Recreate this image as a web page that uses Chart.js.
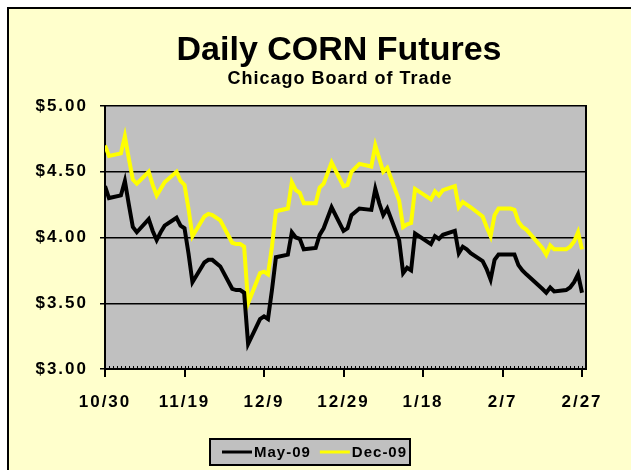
<!DOCTYPE html>
<html>
<head>
<meta charset="utf-8">
<script src="https://cdn.jsdelivr.net/npm/chart.js@4.4.0/dist/chart.umd.min.js"></script>
<style>
  html, body { margin: 0; padding: 0; background: #fff; }
</style>
</head>
<body>
<canvas id="corn" width="631" height="470"></canvas>
<script>
// trading days
const tradeDates = [
  '10/30/2008','10/31/2008','11/3/2008','11/4/2008','11/5/2008','11/6/2008','11/7/2008',
  '11/10/2008','11/11/2008','11/12/2008','11/13/2008','11/14/2008','11/17/2008','11/18/2008',
  '11/19/2008','11/20/2008','11/21/2008','11/24/2008','11/25/2008','11/26/2008','11/28/2008',
  '12/1/2008','12/2/2008','12/3/2008','12/4/2008','12/5/2008','12/8/2008','12/9/2008',
  '12/10/2008','12/11/2008','12/12/2008','12/15/2008','12/16/2008','12/17/2008','12/18/2008',
  '12/19/2008','12/22/2008','12/23/2008','12/24/2008','12/26/2008','12/29/2008','12/30/2008',
  '12/31/2008','1/2/2009','1/5/2009','1/6/2009','1/7/2009','1/8/2009','1/9/2009',
  '1/12/2009','1/13/2009','1/14/2009','1/15/2009','1/16/2009','1/20/2009','1/21/2009',
  '1/22/2009','1/23/2009','1/26/2009','1/27/2009','1/28/2009','1/29/2009','1/30/2009',
  '2/2/2009','2/3/2009','2/4/2009','2/5/2009','2/6/2009','2/9/2009','2/10/2009',
  '2/11/2009','2/12/2009','2/13/2009','2/17/2009','2/18/2009','2/19/2009','2/20/2009',
  '2/23/2009','2/24/2009','2/25/2009','2/26/2009','2/27/2009'
];

const may09 = [
  4.39, 4.30, 4.32, 4.43, 4.25, 4.08, 4.04,
  4.14, 4.05, 3.98, 4.04, 4.09, 4.15, 4.09,
  4.07, 3.88, 3.66, 3.81, 3.83, 3.83, 3.78,
  3.61, 3.60, 3.60, 3.58, 3.19, 3.38, 3.40,
  3.38, 3.60, 3.85, 3.87, 4.04, 4.00, 3.99,
  3.91, 3.92, 4.02, 4.07, 4.23, 4.05, 4.07,
  4.17, 4.22, 4.21, 4.37, 4.26, 4.17, 4.22,
  3.98, 3.73, 3.77, 3.75, 4.03, 3.95, 4.01,
  3.99, 4.02, 4.05, 3.88, 3.93, 3.91, 3.88,
  3.82, 3.76, 3.68, 3.83, 3.87, 3.87, 3.87,
  3.79, 3.75, 3.72, 3.61, 3.58, 3.62, 3.59,
  3.60, 3.62, 3.66, 3.72, 3.58
];

const dec09 = [
  4.70, 4.62, 4.64, 4.77, 4.60, 4.44, 4.41,
  4.50, 4.40, 4.32, 4.37, 4.42, 4.50, 4.43,
  4.40, 4.22, 4.01, 4.16, 4.18, 4.17, 4.13,
  3.96, 3.95, 3.95, 3.93, 3.50, 3.73, 3.74,
  3.72, 3.93, 4.20, 4.22, 4.42, 4.36, 4.34,
  4.26, 4.26, 4.38, 4.41, 4.57, 4.39, 4.40,
  4.50, 4.56, 4.54, 4.70, 4.60, 4.50, 4.53,
  4.28, 4.08, 4.10, 4.11, 4.37, 4.29, 4.35,
  4.32, 4.36, 4.39, 4.23, 4.27, 4.25, 4.23,
  4.16, 4.08, 4.01, 4.17, 4.22, 4.22, 4.21,
  4.12, 4.08, 4.06, 3.92, 3.87, 3.94, 3.91,
  3.91, 3.93, 3.97, 4.04, 3.91
];

const seriesNames = ['May-09', 'Dec-09'];
const xTickDates = ['10/30/2008','11/19/2008','12/9/2008','12/29/2008','1/18/2009','2/7/2009','2/27/2009'];
const xAxisEnd = '2/28/2009';
const yTicks = [3.00, 3.50, 4.00, 4.50, 5.00];

// days counted from the first trading day
function toUTC(s) {
  const p = s.split('/').map(Number);
  return Date.UTC(p[2], p[0] - 1, p[1]);
}
const start = toUTC(tradeDates[0]);
function dayOf(s) { return Math.round((toUTC(s) - start) / 864e5); }
function shortLabel(s) { return s.split('/').slice(0, 2).join('/'); }

const FONT = 'Arial, "Liberation Sans", sans-serif';
Chart.defaults.font.family = FONT;
Chart.defaults.color = '#000';

// fondo amarillo, marco y área gris del gráfico
const backdrop = {
  id: 'backdrop',
  beforeDraw(chart) {
    const c = chart.ctx, a = chart.chartArea;
    c.save();
    c.fillStyle = '#fff';
    c.fillRect(0, 0, chart.width, chart.height);
    c.fillStyle = '#FFFFCC';
    c.fillRect(8, 8, chart.width, chart.height);
    c.strokeStyle = '#000';
    c.lineWidth = 2;
    c.beginPath();
    c.moveTo(8, chart.height);
    c.lineTo(8, 8);
    c.lineTo(chart.width, 8);
    c.stroke();
    c.fillStyle = '#C0C0C0';
    c.fillRect(a.left, a.top, a.right - a.left, a.bottom - a.top);
    c.restore();
    c.letterSpacing = '2px';
  },
  afterDatasetsDraw(chart) {
    const c = chart.ctx, a = chart.chartArea, xs = chart.scales.x;
    c.save();
    c.strokeStyle = '#000';
    c.lineWidth = 2;
    c.beginPath();
    c.moveTo(a.right, a.top - 1);
    c.lineTo(a.right, a.bottom + 1);
    c.stroke();
    // marcas menores diarias
    c.lineWidth = 1;
    c.beginPath();
    for (let d = xs.min; d <= xs.max; d++) {
      const px = Math.round(xs.getPixelForValue(d)) + 0.5;
      c.moveTo(px, a.bottom - 3);
      c.lineTo(px, a.bottom);
    }
    c.stroke();
    c.restore();
  },
  afterDraw(chart) {
    const c = chart.ctx;
    c.save();
    c.fillStyle = '#000';
    c.textAlign = 'center';
    c.textBaseline = 'alphabetic';
    c.letterSpacing = '0px';
    c.font = 'bold 34px ' + FONT;
    c.fillText('Daily CORN Futures', 339, 60);
    c.letterSpacing = '1px';
    c.font = 'bold 18px ' + FONT;
    c.fillText('Chicago Board of Trade', 340, 84);

    // leyenda
    const bx = 210, by = 439, bw = 200, bh = 26;
    c.fillStyle = '#C0C0C0';
    c.fillRect(bx, by, bw, bh);
    c.strokeStyle = '#000';
    c.lineWidth = 2;
    c.strokeRect(bx, by, bw, bh);
    c.font = 'bold 15px ' + FONT;
    c.textAlign = 'left';
    c.textBaseline = 'middle';
    let x = bx + 12;
    const y = by + bh / 2;
    chart.data.datasets.forEach(ds => {
      c.strokeStyle = ds.borderColor;
      c.lineWidth = 3;
      c.beginPath();
      c.moveTo(x, y);
      c.lineTo(x + 30, y);
      c.stroke();
      c.fillStyle = '#000';
      c.fillText(ds.label, x + 32, y + 1);
      x += 32 + c.measureText(ds.label).width + 9;
    });
    c.restore();
  }
};

new Chart(document.getElementById('corn').getContext('2d'), {
  type: 'line',
  data: {
    datasets: [{
      label: seriesNames[0],
      data: tradeDates.map((d, i) => ({ x: dayOf(d), y: may09[i] })),
      borderColor: '#000000',
      borderWidth: 4,
      pointRadius: 0,
      tension: 0
    }, {
      label: seriesNames[1],
      data: tradeDates.map((d, i) => ({ x: dayOf(d), y: dec09[i] })),
      borderColor: '#FFFF00',
      borderWidth: 4,
      pointRadius: 0,
      tension: 0
    }]
  },
  options: {
    responsive: false,
    animation: false,
    events: [],
    layout: { padding: { top: 106, right: 45, bottom: 56, left: 0 } },
    plugins: {
      legend: { display: false },
      tooltip: { enabled: false }
    },
    scales: {
      x: {
        type: 'linear',
        min: dayOf(tradeDates[0]),
        max: dayOf(xAxisEnd),
        afterBuildTicks: s => { s.ticks = xTickDates.map(d => ({ value: dayOf(d) })); },
        afterFit: s => { s.height = 45; },
        ticks: {
          font: { size: 17, weight: 'bold' },
          padding: 15,
          maxRotation: 0,
          autoSkip: false,
          callback: v => {
            const hit = xTickDates.find(d => dayOf(d) === v);
            return hit ? shortLabel(hit) : '';
          }
        },
        grid: { drawOnChartArea: false, color: '#000', lineWidth: 2, tickLength: 8 },
        border: { color: '#000', width: 2 }
      },
      y: {
        min: yTicks[0],
        max: yTicks[yTicks.length - 1],
        afterBuildTicks: s => { s.ticks = yTicks.map(v => ({ value: v })); },
        afterFit: s => { s.width = 105; },
        ticks: {
          font: { size: 17, weight: 'bold' },
          padding: 12,
          callback: v => '$' + v.toFixed(2)
        },
        grid: { color: '#000', lineWidth: 1.5, tickLength: 5 },
        border: { color: '#000', width: 2 }
      }
    }
  },
  plugins: [backdrop]
});
</script>
</body>
</html>
